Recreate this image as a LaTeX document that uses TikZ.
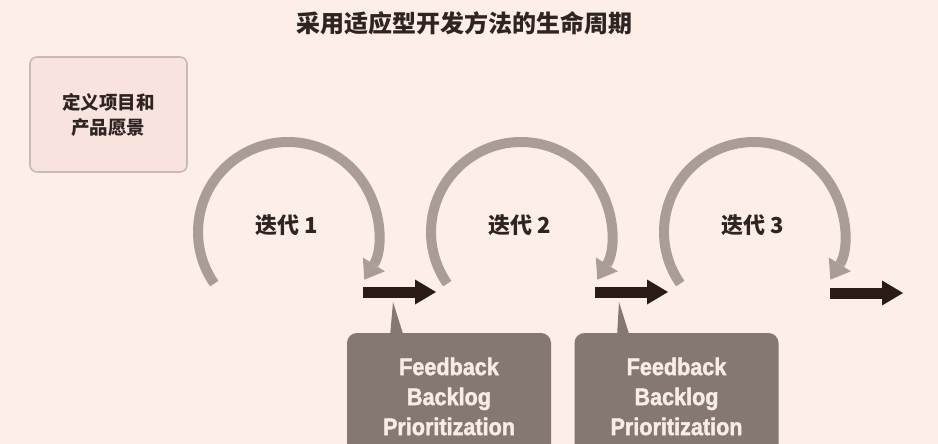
\documentclass[tikz,border=0pt]{standalone}
\usepackage{fontspec}
\newfontfamily\cjk{Noto Sans CJK SC}
\newfontfamily\condfont[FakeStretch=0.9, BoldFeatures={FakeStretch=0.9, FakeBold=1.6}]{Liberation Sans}
\usetikzlibrary{arrows.meta,calc}
\definecolor{bgcol}{HTML}{FDEEE7}
\definecolor{arcgray}{HTML}{AA9C97}
\definecolor{darkarrow}{HTML}{2B1B15}
\definecolor{calloutfill}{HTML}{857771}
\definecolor{callouttext}{HTML}{F8EDE6}
\definecolor{visionfill}{HTML}{F8E3DF}
\definecolor{visionline}{HTML}{CDB9B4}
\definecolor{inktext}{HTML}{2E2523}
\tikzset{
  titletext/.style={inner sep=0pt, text=inktext, font=\cjk\bfseries\fontsize{24}{28}\selectfont},
  visionbox/.style={draw=visionline, fill=visionfill, line width=1.6pt, rounded corners=7pt,
    minimum width=157pt, minimum height=115pt, align=center, text=inktext,
    font=\cjk\bfseries\fontsize{18.5}{25}\selectfont},
  iterlabel/.style={inner sep=0pt, text=inktext, font=\cjk\bfseries\fontsize{22}{26}\selectfont},
  iterarc/.style={draw=arcgray, line width=10pt, line cap=butt,
    -{Triangle[width=26pt,length=18pt,line width=0pt]}},
  flowarrow/.style={draw=darkarrow, line width=11pt,
    -{Triangle[width=25pt,length=21pt,line width=0pt]}},
  calloutbox/.style={fill=calloutfill, rounded corners=10pt, minimum width=204pt,
    minimum height=127pt, align=center, text=callouttext,
    font=\condfont\bfseries\fontsize{24}{30}\selectfont},
  pointer/.style={fill=calloutfill}
}
\begin{document}
\begin{tikzpicture}[x=1pt,y=-1pt]
\useasboundingbox (0,0) rectangle (938,444);
\fill[bgcol] (0,0) rectangle (938,444);
\clip (0,0) rectangle (938,444);

% title
\node[titletext] (title) at (464,23) {采用适应型开发方法的生命周期};

% vision box
\node[visionbox] (vision) at (108.5,114.5) {定义项目和\\产品愿景};

% iteration arcs
\coordinate (c1) at (288,232);
\coordinate (c2) at (521,232);
\coordinate (c3) at (754,232);
\foreach \i in {1,2,3}{
  \coordinate (s\i) at ($(c\i)+(-215:90)$);
  \draw[iterarc] (s\i) arc[start angle=-215, end angle=32, radius=90];
}
\node[iterlabel] (it1) at (287,225) {迭代 1};
\node[iterlabel] (it2) at (520,225) {迭代 2};
\node[iterlabel] (it3) at (753,225) {迭代 3};

% flow arrows
\coordinate (f1s) at (363,292); \coordinate (f1e) at (436,292);
\coordinate (f2s) at (595,292); \coordinate (f2e) at (668,292);
\coordinate (f3s) at (830,293); \coordinate (f3e) at (903,293);
\draw[flowarrow] (f1s) -- (f1e);
\draw[flowarrow] (f2s) -- (f2e);
\draw[flowarrow] (f3s) -- (f3e);

% callouts
\node[calloutbox] (fb1) at (449,396.5) {Feedback\\Backlog\\Prioritization};
\node[calloutbox] (fb2) at (676.5,396.5) {Feedback\\Backlog\\Prioritization};
\coordinate (p1) at (393,302);
\coordinate (p2) at (619,302);
\fill[pointer] ([xshift=-59pt,yshift=-4pt]fb1.north) -- (p1) -- ([xshift=-45pt,yshift=-4pt]fb1.north) -- cycle;
\fill[pointer] ([xshift=-59.5pt,yshift=-4pt]fb2.north) -- (p2) -- ([xshift=-46.5pt,yshift=-4pt]fb2.north) -- cycle;
\end{tikzpicture}
\end{document}
